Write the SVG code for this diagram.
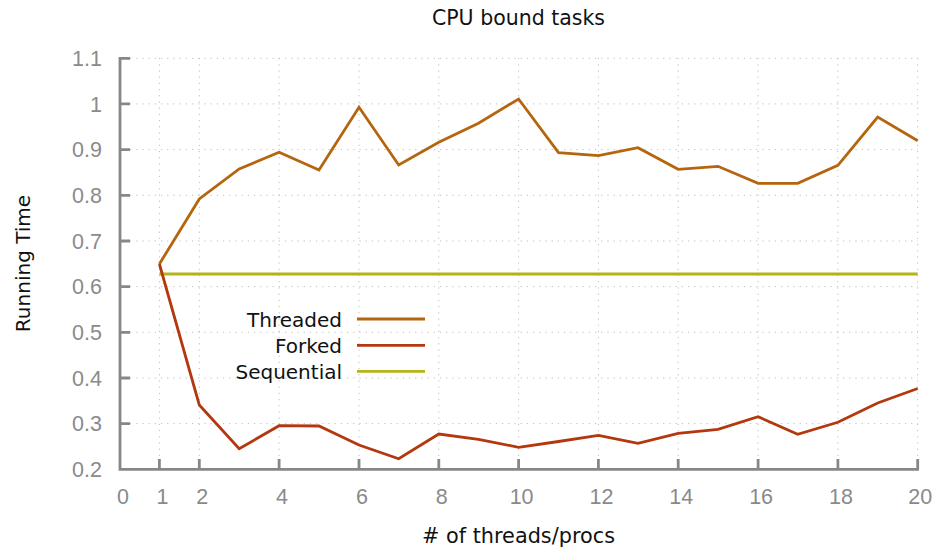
<svg xmlns="http://www.w3.org/2000/svg" width="937" height="552" viewBox="0 0 937 552">
<style>
.grid{stroke:#bdbdbd;stroke-width:1;stroke-dasharray:1.2 5;fill:none}
.axis{stroke:#878787;stroke-width:2.8;fill:none;stroke-linecap:butt}
.tick{font-family:"Liberation Sans",Arial,sans-serif;font-size:21.5px;fill:#8a8a8a}
.lbl{font-family:"DejaVu Sans","Liberation Sans",sans-serif;font-size:20px;fill:#111}
.series{fill:none;stroke-width:2.8;stroke-linejoin:miter}
.thr{stroke:#b5650d}
.frk{stroke:#b3380f}
.seq{stroke:#b4b418}
</style>
<rect width="937" height="552" fill="#fff"/>
<g id="grid">
<path class="grid" d="M130 58.3H918M130 103.9H918M130 149.6H918M130 195.3H918M130 241H918M130 286.6H918M130 332.3H918M130 378H918M130 423.6H918"/>
<path class="grid" d="M159.4 58V459M199.3 58V459M279.1 58V459M359 58V459M438.8 58V459M518.6 58V459M598.4 58V459M678.2 58V459M758.1 58V459M837.9 58V459M917.7 58V459"/>
</g>
<g id="axes">
<path class="axis" d="M120 57V469.3H919"/>
<path class="axis" d="M120 58.3H130M120 103.9H130M120 149.6H130M120 195.3H130M120 241H130M120 286.6H130M120 332.3H130M120 378H130M120 423.6H130"/>
<path class="axis" d="M159.4 469V459M199.3 469V459M279.1 469V459M359 469V459M438.8 469V459M518.6 469V459M598.4 469V459M678.2 469V459M758.1 469V459M837.9 469V459M917.7 469V459"/>
</g>
<g id="y-labels" class="tick" text-anchor="end">
<text x="102" y="66">1.1</text>
<text x="102" y="111.5">1</text>
<text x="102" y="157.2">0.9</text>
<text x="102" y="202.9">0.8</text>
<text x="102" y="248.6">0.7</text>
<text x="102" y="294.2">0.6</text>
<text x="102" y="339.9">0.5</text>
<text x="102" y="385.6">0.4</text>
<text x="102" y="431.2">0.3</text>
<text x="102" y="476.9">0.2</text>
</g>
<g id="x-labels" class="tick" text-anchor="middle">
<text x="123" y="504">0</text>
<text x="162.4" y="504">1</text>
<text x="202.3" y="504">2</text>
<text x="282.1" y="504">4</text>
<text x="362" y="504">6</text>
<text x="441.8" y="504">8</text>
<text x="521.6" y="504">10</text>
<text x="601.4" y="504">12</text>
<text x="681.2" y="504">14</text>
<text x="761.1" y="504">16</text>
<text x="840.9" y="504">18</text>
<text x="920.2" y="504">20</text>
</g>
<g id="series">
<polyline id="sequential" class="series seq" points="159.4,274 917.7,274"/>
<polyline id="threaded" class="series thr" points="159.4,264 199.3,199 239.2,169 279.1,152.3 319,170 359,107.3 398.7,165 438.8,142.3 478.5,123.3 518.6,99 558.5,152.7 598.4,155.7 638,147.7 678.2,169.3 718,166.3 758.1,183.3 797.7,183.3 837.9,165.3 877.7,117 917.7,140.7"/>
<polyline id="forked" class="series frk" points="159.4,264 199.3,405 239.2,448.7 279.1,425.7 319,426 359,445 398.7,458.7 438.8,434 478.5,439.3 518.6,447.3 558.5,441.5 598.4,435.3 638,443.3 678.2,433.3 718,429.3 758.1,416.7 797.7,434.3 837.9,422.3 877.7,403 917.7,388.5"/>
</g>
<g id="legend">
<g class="lbl" text-anchor="end">
<text x="342" y="327">Threaded</text>
<text x="342" y="353">Forked</text>
<text x="342" y="379">Sequential</text>
</g>
<line class="series thr" x1="357" y1="319" x2="425" y2="319"/>
<line class="series frk" x1="357" y1="345.3" x2="425" y2="345.3"/>
<line class="series seq" x1="357" y1="371.3" x2="425" y2="371.3"/>
</g>
<g id="titles" class="lbl" text-anchor="middle">
<text x="518.5" y="25" font-size="20.5">CPU bound tasks</text>
<text x="518.5" y="543" font-size="20.8">#&#160;of threads/procs</text>
<text transform="translate(29.5 263.5) rotate(-90)">Running Time</text>
</g>
</svg>
